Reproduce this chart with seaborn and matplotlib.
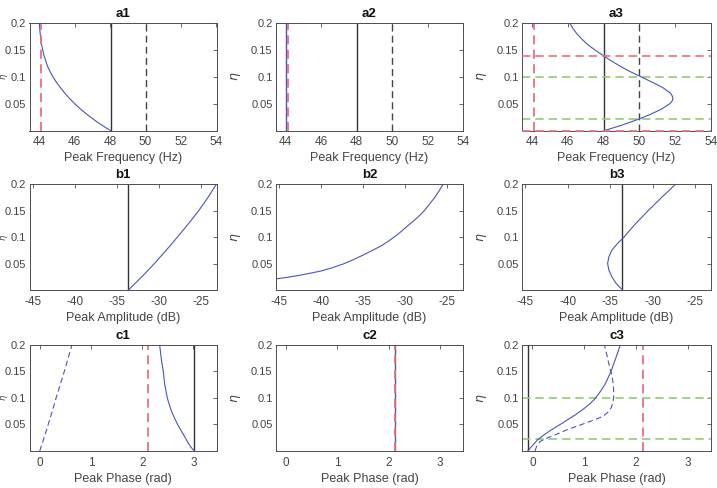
import numpy as np
import seaborn as sns
import matplotlib.pyplot as plt

sns.set_theme(style="white")
plt.rcParams['font.family'] = ['Liberation Sans', 'DejaVu Sans']

# ---- data ----
# a1: peak frequency vs eta
a1_eta = [0, 0.005, 0.01, 0.015, 0.02, 0.03, 0.04, 0.05, 0.06, 0.07, 0.08, 0.09,
          0.10, 0.11, 0.12, 0.14, 0.16, 0.18, 0.20]
a1_freq = [48.04, 47.78, 47.55, 47.32, 47.1, 46.7, 46.33, 46.0, 45.7, 45.43, 45.19, 44.96,
           44.77, 44.6, 44.46, 44.26, 44.13, 44.05, 44.0]
# a3
a3_eta = [0, 0.01, 0.02, 0.03, 0.04, 0.05, 0.055, 0.06, 0.065, 0.07, 0.08, 0.09, 0.10,
          0.11, 0.12, 0.13, 0.138, 0.15, 0.16, 0.17, 0.18, 0.19, 0.20]
a3_freq = [48.03, 49.0, 49.85, 50.6, 51.24, 51.7, 51.83, 51.88, 51.83, 51.72, 51.3, 50.7, 50.08,
           49.45, 48.9, 48.4, 48.03, 47.5, 47.1, 46.78, 46.5, 46.28, 46.1]
a2_freq = 44.0          # a2 curve is a vertical line
freq_ref = 48.04        # black solid
freq_target = 50.0      # black dashed
freq_red = 44.1         # red dashed
a3_hlines_red = [0.138, 0.0]
a3_hlines_green = [0.1, 0.0217]

# b: peak amplitude
b1_eta = [0, 0.025, 0.05, 0.075, 0.1, 0.125, 0.15, 0.175, 0.2]
b1_amp = [-33.6, -32.0, -30.5, -29.1, -27.75, -26.45, -25.2, -24.1, -23.1]
b2_eta = [0.021, 0.024, 0.028, 0.032, 0.036, 0.042, 0.049, 0.057, 0.066, 0.074, 0.082, 0.091,
          0.1, 0.108, 0.117, 0.125, 0.133, 0.141, 0.15, 0.162, 0.174, 0.187, 0.2]
b2_amp = [-45.4, -44.0, -42.5, -41.2, -40, -38.7, -37.4, -36.2, -35, -34.0, -33, -32.1,
          -31.3, -30.65, -30, -29.4, -28.8, -28.25, -27.7, -27.1, -26.5, -25.95, -25.45]
b3_eta = [0, 0.0125, 0.025, 0.0375, 0.05, 0.0625, 0.075, 0.0875, 0.1, 0.1125, 0.125, 0.1375,
          0.15, 0.1625, 0.175, 0.1875, 0.2]
b3_amp = [-33.55, -34.3, -34.8, -35.15, -35.3, -35.15, -34.8, -34.15, -33.35, -32.7, -32.0, -31.25,
          -30.5, -29.7, -28.9, -28.07, -27.25]
amp_ref = -33.6

# c: peak phase
c1_eta = [0, 0.005, 0.01, 0.018, 0.025, 0.035, 0.05, 0.06, 0.075, 0.09, 0.1, 0.115, 0.125,
          0.15, 0.175, 0.2]
c1_phase = [3.02, 2.97, 2.93, 2.88, 2.84, 2.78, 2.69, 2.64, 2.57, 2.52, 2.49, 2.46, 2.44,
            2.41, 2.37, 2.34]
c1_eta_d = [0, 0.025, 0.05, 0.075, 0.1, 0.125, 0.15, 0.175, 0.2]
c1_phase_d = [0, 0.085, 0.165, 0.245, 0.32, 0.40, 0.48, 0.555, 0.63]
c3_eta = [0, 0.01, 0.021, 0.03, 0.038, 0.046, 0.053, 0.06, 0.068, 0.08, 0.088, 0.0963, 0.11,
          0.125, 0.134, 0.15, 0.165, 0.18, 0.2]
c3_phase = [-0.09, 0.0, 0.10, 0.22, 0.34, 0.47, 0.59, 0.70, 0.83, 1.0, 1.10, 1.19, 1.30,
            1.40, 1.445, 1.52, 1.575, 1.63, 1.70]
c3_eta_d = [0, 0.008, 0.018, 0.025, 0.032, 0.04, 0.047, 0.053, 0.058, 0.063, 0.068, 0.074,
            0.081, 0.09, 0.1025, 0.115, 0.1275, 0.145, 0.159, 0.18, 0.2]
c3_phase_d = [0.05, 0.08, 0.15, 0.30, 0.48, 0.67, 0.87, 1.04, 1.18, 1.31, 1.40, 1.47,
              1.52, 1.555, 1.57, 1.57, 1.56, 1.53, 1.49, 1.44, 1.39]
c1_ref = 3.02
c2_phase = 2.12
c3_ref = -0.09
phase_red = [2.11, 2.12, 2.14]

BLUE = '#4a55b5'
RED = '#e8707c'
GREEN = '#93cc6e'
DARK = '#333333'
GRAY = '#4d4d4d'
DASH = (0, (5, 3))

fig = plt.figure(figsize=(7.17, 4.88), dpi=100)
W, H = 717, 488
col_px = [(29.5, 187), (276, 187), (522, 189)]
row_px = [(22.7, 130.7), (184, 290), (344.7, 451)]

axes = {}
for r, (top, bot) in enumerate(row_px):
    for c, (left, w) in enumerate(col_px):
        ax = fig.add_axes([left / W, 1 - bot / H, w / W, (bot - top) / H])
        axes[(r, c)] = ax


def style(ax, title, xlabel, xlim, xticks, c):
    left, width_px = col_px[c]
    ax.set_xlim(xlim)
    ax.set_ylim(0, 0.2)
    ax.set_xticks(xticks)
    ax.set_xticklabels([f'{t:g}' for t in xticks])
    ax.set_yticks([0.05, 0.1, 0.15, 0.2])
    ax.set_yticklabels(['0.05', '0.1', '0.15', '0.2'])
    ax.tick_params(direction='in', length=3, width=0.6, colors=GRAY,
                   labelsize=8.5, top=True, right=True, pad=4,
                   labelcolor='#444444')
    ax.tick_params(axis='y', labelsize=8.0, pad=2.5)
    for s in ax.spines.values():
        s.set_color(GRAY)
        s.set_linewidth(0.7)
    ax.set_title(title, fontsize=9.5, fontweight='bold', pad=4, color='#111111')
    ax.set_xlabel(xlabel, fontsize=9, color='#444444', labelpad=3)
    if c > 0:
        ax.set_ylabel(r'$\eta$', fontsize=9, color='#444444')
        ax.yaxis.set_label_coords(-33 / width_px, 0.5)
    else:
        # first column: the label is squeezed against the figure's left edge
        ax.set_ylabel('')
        ax.text(-19.3 / width_px, 0.5, r'$\eta$', transform=ax.transAxes,
                rotation=90, ha='right', va='center', fontsize=6,
                color='#444444')


def curve(ax, x, y, dashed=False):
    kw = dict(ls=DASH) if dashed else {}
    sns.lineplot(x=x, y=y, sort=False, estimator=None, color=BLUE,
                 lw=0.8, ax=ax, **kw)


# ---- row a ----
fx = (43.45, 54)
fticks = [44, 46, 48, 50, 52, 54]
for c in range(3):
    ax = axes[(0, c)]
    ax.axvline(freq_ref, color=DARK, lw=1)
    ax.axvline(freq_target, color='#444444', lw=1, ls=DASH)
ax = axes[(0, 0)]
curve(ax, a1_freq, a1_eta)
ax.axvline(freq_red, color=RED, lw=1.3, ls=DASH)
ax = axes[(0, 1)]
ax.axvline(a2_freq, color=BLUE, lw=1)
ax.axvline(freq_red, color=RED, lw=1.3, ls=DASH)
ax = axes[(0, 2)]
for yv in a3_hlines_red:
    ax.axhline(yv, color=RED, lw=1.2, ls=DASH, zorder=3, clip_on=False)
for yv in a3_hlines_green:
    ax.axhline(yv, color=GREEN, lw=1.2, ls=DASH)
ax.axvline(freq_red, color=RED, lw=1.3, ls=DASH)
curve(ax, a3_freq, a3_eta)
for c in range(3):
    style(axes[(0, c)], f'a{c + 1}', 'Peak Frequency (Hz)', fx, fticks, c)

# ---- row b ----
bx = (-45.4, -23.1)
bticks = [-45, -40, -35, -30, -25]
ax = axes[(1, 0)]
ax.axvline(amp_ref, color=DARK, lw=1)
curve(ax, b1_amp, b1_eta)
ax = axes[(1, 1)]
curve(ax, b2_amp, b2_eta)
ax = axes[(1, 2)]
ax.axvline(amp_ref + 0.05, color=DARK, lw=1)
curve(ax, b3_amp, b3_eta)
for c in range(3):
    style(axes[(1, c)], f'b{c + 1}', 'Peak Amplitude (dB)', bx, bticks, c)

# ---- row c ----
cx = (-0.2, 3.45)
cticks = [0, 1, 2, 3]
ax = axes[(2, 0)]
ax.axvline(c1_ref, color=DARK, lw=1)
ax.axvline(phase_red[0], color=RED, lw=1.3, ls=DASH)
curve(ax, c1_phase, c1_eta)
curve(ax, c1_phase_d, c1_eta_d, dashed=True)
ax = axes[(2, 1)]
ax.axvline(c2_phase, color=BLUE, lw=1)
ax.axvline(phase_red[1], color=RED, lw=1.3, ls=DASH)
ax = axes[(2, 2)]
ax.axvline(c3_ref, color=DARK, lw=1)
for yv in a3_hlines_green:
    ax.axhline(yv, color=GREEN, lw=1.2, ls=DASH)
ax.axvline(phase_red[2], color=RED, lw=1.3, ls=DASH)
curve(ax, c3_phase, c3_eta)
curve(ax, c3_phase_d, c3_eta_d, dashed=True)
for c in range(3):
    style(axes[(2, c)], f'c{c + 1}', 'Peak Phase (rad)', cx, cticks, c)

fig.savefig('out.png', dpi=100)
